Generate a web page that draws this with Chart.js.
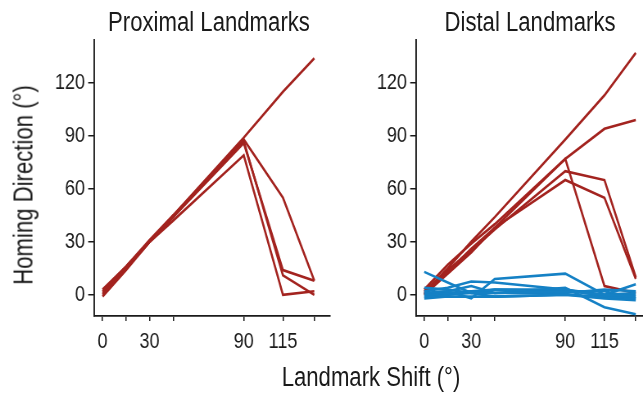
<!DOCTYPE html>
<html>
<head>
<meta charset="utf-8">
<script src="https://cdn.jsdelivr.net/npm/chart.js@4.4.1/dist/chart.umd.min.js"></script>
<style>
  html, body { margin: 0; padding: 0; background: #fff; }
  #wrap { position: relative; width: 643px; height: 394px; overflow: hidden; background: #fff; }
  .panel { position: absolute; top: 0; height: 394px; transform-origin: 0 0; }
  .txt { position: absolute; font-family: "Liberation Sans", Arial, sans-serif;
         font-size: 27px; line-height: 27px; color: #1a1a1a; white-space: nowrap; }
</style>
</head>
<body>
<div id="wrap">
  <div class="panel" id="leftBox" style="left:0"><canvas id="left"></canvas></div>
  <div class="panel" id="rightBox" style="left:340px"><canvas id="right"></canvas></div>
  <div class="txt" style="top:9px;left:209px;transform:translateX(-50%) scaleX(0.82)">Proximal Landmarks</div>
  <div class="txt" style="top:9px;left:530px;transform:translateX(-50%) scaleX(0.82)">Distal Landmarks</div>
  <div class="txt" style="top:364px;left:371px;transform:translateX(-50%) scaleX(0.82)">Landmark Shift (°)</div>
  <div class="txt" style="top:185px;left:24px;transform:translate(-50%,-50%) rotate(-90deg) scaleX(0.82)">Homing Direction (°)</div>
</div>
<script>
// Landmark shift (degrees) at which homing direction was measured
const shifts = [0, 15, 30, 45, 90, 115, 135];
const xTicks = [0, 15, 30, 45, 90, 115, 135];
const xLabelled = [0, 30, 90, 115];
const yTicks = [0, 30, 60, 90, 120];

// Proximal landmarks: individual homing directions (degrees)
const proxA = [2, 16, 31, 45, 89, 115, 134];
const proxB = [0, 15, 30, 44, 88, 55, 8];
const proxC = [-1, 14, 30, 44, 86, 14, 8];
const proxD = [1, 15, 30, 45, 87, 11, 0];
const proxE = [3, 16, 30, 42, 79, 0, 2];

// Distal landmarks, following the shift (red)
const distR1 = [1, 15, 30, 44, 88, 113, 137];
const distR2 = [3, 17, 29, 40, 77, 94, 99];
const distR3 = [0, 13, 26, 38, 77, 5, 1];
const distR4 = [2, 14, 25, 37, 70, 65, 10];
const distR5 = [0, 12, 24, 38, 65, 55, 9];

// Distal landmarks, staying near zero (blue)
const distB1 = [13, 7, 1, 1, 2, 0, -1];
const distB2 = [1, 2, -2, 9, 12, 0, 1];
const distB3 = [2, 4, 7.5, 7, 3, -1, -2];
const distB4 = [0, 1, 2, 1, 4, -7, -11];
const distB5 = [-1, 0, 1, 3, 3, 0, 6];
const distB6 = [-2, -1, -1, -1, 0, -2, -3];
const distB7 = [4, 3, 1, -1, 0, -1, 0];
const distB8 = [-1, 0, 2, 3, 2, 2, -2];
const distB9 = [1, 2, 5, 1, 1, 3, 2];

const RED = '#A3231F';
const BLUE = '#1581C5';
const INK = '#1a1a1a';
const FONT = { family: '"Liberation Sans", Arial, sans-serif', size: 22 };
// horizontal condensing applied to each panel so the text reads as a narrow face
const K = 0.82;

function series(values, color) {
  return {
    data: values.map((v, i) => ({ x: shifts[i], y: v })),
    borderColor: color,
    backgroundColor: color,
    borderWidth: 2.6,
    pointRadius: 0,
    tension: 0,
    fill: false
  };
}

function makeChart(id, boxWidth, datasets, yWidth, padRight, xMin, xMax) {
  const canvas = document.getElementById(id);
  const w = Math.round(boxWidth / K);
  canvas.width = w;
  canvas.height = 394;
  canvas.style.width = w + 'px';
  canvas.style.height = '394px';
  const box = canvas.parentElement;
  box.style.width = w + 'px';
  box.style.transform = 'scaleX(' + (boxWidth / w) + ')';
  return new Chart(canvas, {
    type: 'line',
    data: { datasets },
    options: {
      responsive: false,
      animation: false,
      events: [],
      layout: { padding: { top: 40, right: padRight / K, left: 0, bottom: 0 } },
      plugins: { legend: { display: false }, tooltip: { enabled: false }, title: { display: false } },
      scales: {
        x: {
          type: 'linear',
          min: xMin,
          max: xMax,
          afterBuildTicks: s => { s.ticks = xTicks.map(v => ({ value: v })); },
          afterFit: s => { s.height = 78; },
          ticks: {
            callback: v => xLabelled.includes(v) ? String(v) : '',
            autoSkip: false, maxRotation: 0, minRotation: 0,
            font: FONT, color: INK, padding: 8
          },
          grid: { drawOnChartArea: false, drawTicks: true, tickLength: 5, color: INK, lineWidth: 1.5 },
          border: { display: true, color: INK, width: 1.8 }
        },
        y: {
          type: 'linear',
          min: -12,
          max: 144.3,
          afterBuildTicks: s => { s.ticks = yTicks.map(v => ({ value: v })); },
          afterFit: s => { s.width = yWidth / K; },
          ticks: { callback: v => String(v), font: FONT, color: INK, padding: 4 },
          grid: { drawOnChartArea: false, drawTicks: true, tickLength: 7, color: INK, lineWidth: 1.5 },
          border: { display: true, color: INK, width: 1.9 }
        }
      }
    }
  });
}

makeChart('left', 340,
  [proxA, proxB, proxC, proxD, proxE].map(v => series(v, RED)),
  94, 10, -5.5, 145);

makeChart('right', 303,
  [distB1, distB2, distB3, distB4, distB5, distB6, distB7, distB8, distB9].map(v => series(v, BLUE))
    .concat([distR1, distR2, distR3, distR4, distR5].map(v => series(v, RED))),
  76, 0, -5.3, 139.6);
</script>
</body>
</html>
